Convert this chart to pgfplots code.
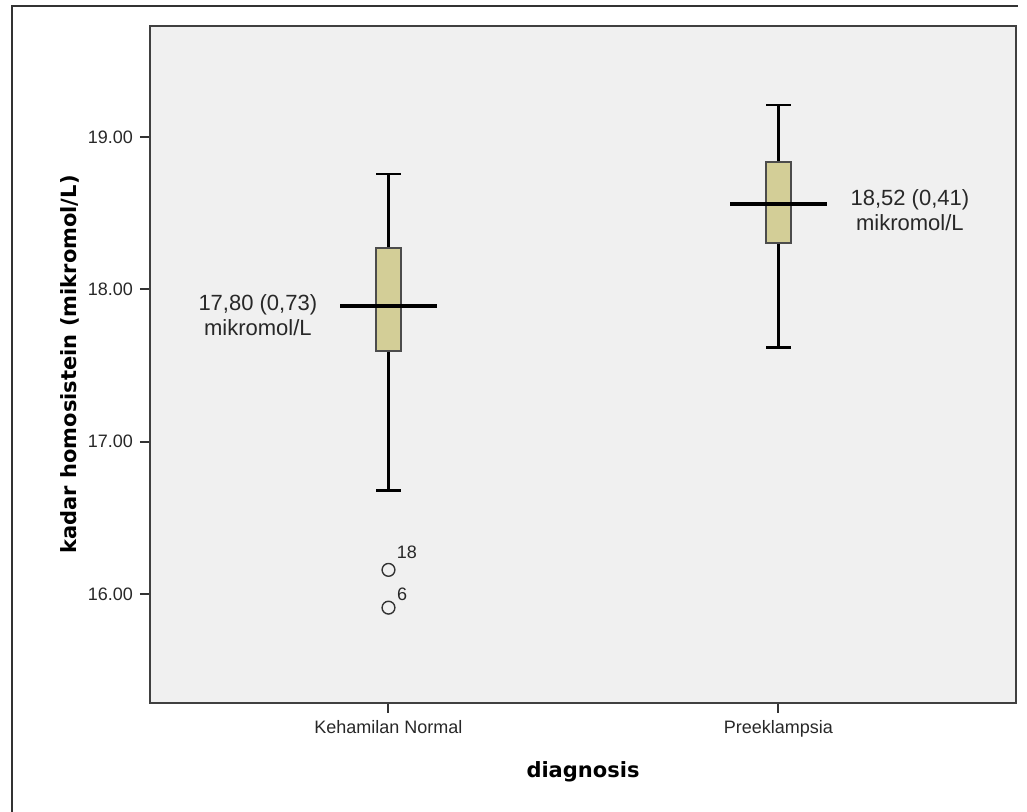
\documentclass[border=0pt]{standalone}
\usepackage{fontspec}
\setmainfont{Liberation Sans}
\newfontfamily\labelfont{DejaVu Sans}
\usepackage{pgfplots}
\pgfplotsset{compat=1.18}
\definecolor{boxfill}{RGB}{211,206,151}
\definecolor{panel}{RGB}{240,240,240}
\definecolor{ink}{RGB}{40,40,40}

\begin{document}
\begin{tikzpicture}
% page = 1027x812 px at 0.5pt per px, axis box lower-left at origin
\useasboundingbox (-75pt,-54.5pt) rectangle (438.5pt,351.5pt);
\draw[black!80, line width=0.8pt] (-69pt,-60pt) -- (-69pt,348.5pt) -- (434pt,348.5pt);
\begin{axis}[
    scale only axis,
    width=433pt, height=338.5pt,
    xmin=-0.6115, xmax=1.609,
    ymin=15.284, ymax=19.729,
    xtick={0,1},
    xticklabels={Kehamilan Normal, Preeklampsia},
    ytick={16,17,18,19},
    yticklabel style={/pgf/number format/.cd, fixed, fixed zerofill, precision=2, assume math mode=true},
    tick label style={font=\fontsize{9}{10}\selectfont, text=ink},
    xtick pos=bottom, ytick pos=left,
    tick align=outside,
    major tick length=5pt,
    tick style={black!80, line width=1pt},
    axis background/.style={fill=panel},
    axis line style={black!75, line width=1.2pt},
    xlabel={diagnosis},
    ylabel={kadar homosistein (mikromol/L)},
    label style={font=\labelfont\bfseries\fontsize{10.5}{12}\selectfont, text=black},
    xlabel style={at={([yshift=-34.5pt]axis description cs:0.5,0)}, anchor=center},
    ylabel style={at={([xshift=-40pt]axis description cs:0,0.5)}, anchor=center},
    whisker/.style={draw=black, line width=1.4pt},
    box/.style={draw=black!70, line width=0.6pt, fill=boxfill},
    med/.style={draw=black, line width=2.2pt},
]
% Kehamilan Normal: whiskers 16.678 / 18.757, box 17.595-18.271, median 17.890
\addplot[whisker] coordinates {(0,16.678) (0,17.595)};
\addplot[whisker] coordinates {(0,18.271) (0,18.757)};
\addplot[whisker] coordinates {(-0.031,16.678) (0.031,16.678)};
\addplot[whisker] coordinates {(-0.031,18.757) (0.031,18.757)};
\addplot[box] coordinates {(-0.032,17.595) (0.032,17.595) (0.032,18.271) (-0.032,18.271)} -- cycle;
\addplot[med] coordinates {(-0.124,17.890) (0.124,17.890)};
\addplot[only marks, mark=o, mark size=3.2pt, mark options={draw=black!80, line width=0.7pt, fill=none}]
    coordinates {(0,16.158) (0,15.910)};

% Preeklampsia: whiskers 17.620 / 19.210, box 18.304-18.836, median 18.560
\addplot[whisker] coordinates {(1,17.620) (1,18.304)};
\addplot[whisker] coordinates {(1,18.836) (1,19.210)};
\addplot[whisker] coordinates {(0.969,17.620) (1.031,17.620)};
\addplot[whisker] coordinates {(0.969,19.210) (1.031,19.210)};
\addplot[box] coordinates {(0.968,18.304) (1.032,18.304) (1.032,18.836) (0.968,18.836)} -- cycle;
\addplot[med] coordinates {(0.876,18.560) (1.124,18.560)};

\node[align=center, inner sep=0pt, text=ink, font=\fontsize{11}{12.5}\selectfont]
    at (axis cs:-0.335,17.831) {17,80 (0,73)\\mikromol/L};
\node[align=center, inner sep=0pt, text=ink, font=\fontsize{11}{12.5}\selectfont]
    at (axis cs:1.337,18.521) {18,52 (0,41)\\mikromol/L};
\node[inner sep=0pt, text=ink, font=\fontsize{9}{10}\selectfont] at (axis cs:0.047,16.272) {18};
\node[inner sep=0pt, text=ink, font=\fontsize{9}{10}\selectfont] at (axis cs:0.035,16.0) {6};
\end{axis}
\end{tikzpicture}
\end{document}
